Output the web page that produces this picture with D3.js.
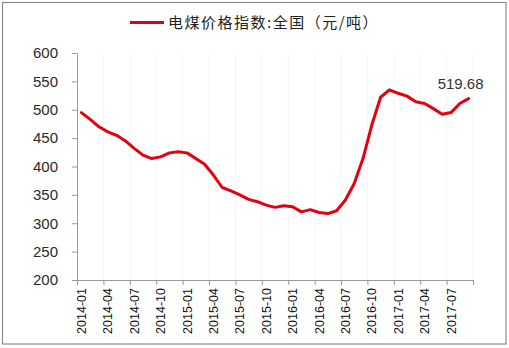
<!DOCTYPE html>
<html>
<head>
<meta charset="utf-8">
<script src="https://cdn.jsdelivr.net/npm/d3@7"></script>
<style>
  html, body { margin: 0; padding: 0; background: #fff; }
  svg { display: block; }
</style>
</head>
<body>
<svg id="chart" width="509" height="348"></svg>
<script>
// Monthly thermal-coal price index, national (yuan / tonne)
const months = [
  "2014-01","2014-02","2014-03","2014-04","2014-05","2014-06","2014-07","2014-08","2014-09","2014-10","2014-11","2014-12",
  "2015-01","2015-02","2015-03","2015-04","2015-05","2015-06","2015-07","2015-08","2015-09","2015-10","2015-11","2015-12",
  "2016-01","2016-02","2016-03","2016-04","2016-05","2016-06","2016-07","2016-08","2016-09","2016-10","2016-11","2016-12",
  "2017-01","2017-02","2017-03","2017-04","2017-05","2017-06","2017-07","2017-08","2017-09"
];
const priceIndex = [
  495, 483, 470, 461, 455, 445, 432, 420, 414, 417, 424, 426,
  424, 414, 404, 385, 363, 357, 350, 342, 338, 332, 328, 331,
  329, 320, 324, 319, 317, 322, 341, 370, 414, 473, 522, 535,
  529, 524, 514, 511, 502, 492, 495, 511, 519.68
];
const yTickValues = [200, 250, 300, 350, 400, 450, 500, 550, 600];
const xTickLabels = [
  "2014-01","2014-04","2014-07","2014-10","2015-01","2015-04","2015-07","2015-10",
  "2016-01","2016-04","2016-07","2016-10","2017-01","2017-04","2017-07"
];
const seriesName = "电煤价格指数:全国（元/吨）";
const lastLabel = "519.68";

(function draw() {
  const svg = d3.select("#chart");
  const plotLeft = 77, plotRight = 473, plotTop = 53, plotBottom = 280;
  const lineColor = "#e3000f";
  const axisColor = "#9a9a9a";

  // outer frame
  svg.append("rect")
    .attr("x", 2.5).attr("y", 2.5).attr("width", 503.5).attr("height", 341.5)
    .attr("fill", "#fff").attr("stroke", "#8a8a8a").attr("stroke-width", 1.2);

  const x = d3.scaleBand().domain(months).range([plotLeft, plotRight]).padding(0);
  const y = d3.scaleLinear().domain([200, 600]).range([plotBottom, plotTop]);
  const cx = m => x(m) + x.bandwidth() / 2;

  // tick positions sit on category boundaries every 3 months
  const boundaryIdx = d3.range(0, months.length + 1, 3);
  const bx = i => plotLeft + i * x.step();

  // faint vertical grid
  svg.append("g").selectAll("line").data(boundaryIdx.slice(1)).join("line")
    .attr("x1", d => bx(d)).attr("x2", d => bx(d))
    .attr("y1", plotTop).attr("y2", plotBottom)
    .attr("stroke", "#f4f4f4").attr("stroke-width", 1);

  // y axis
  const yAxis = d3.axisLeft(y).tickValues(yTickValues).tickSize(5).tickPadding(14).tickSizeOuter(0);
  const gy = svg.append("g").attr("transform", `translate(${plotLeft},0)`).call(yAxis);
  gy.select(".domain").attr("stroke", axisColor);
  gy.selectAll(".tick line").attr("stroke", axisColor);
  gy.selectAll(".tick text")
    .attr("fill", "#2a2a2a")
    .style("font-family", "'Liberation Sans', Arial, sans-serif")
    .style("font-size", "15px");

  // x axis line and ticks
  svg.append("line")
    .attr("x1", plotLeft).attr("x2", plotRight).attr("y1", plotBottom + 0.5).attr("y2", plotBottom + 0.5)
    .attr("stroke", axisColor);
  svg.append("g").selectAll("line").data(boundaryIdx).join("line")
    .attr("x1", d => bx(d) + 0.5).attr("x2", d => bx(d) + 0.5)
    .attr("y1", plotBottom).attr("y2", plotBottom + 5)
    .attr("stroke", axisColor);

  // rotated x labels
  svg.append("g").selectAll("text").data(xTickLabels).join("text")
    .attr("transform", d => `translate(${cx(d) + 4.5},${plotBottom + 8}) rotate(-90)`)
    .attr("text-anchor", "end")
    .attr("fill", "#111")
    .style("font-family", "'Liberation Sans', Arial, sans-serif")
    .style("font-size", "12.5px")
    .text(d => d);

  // series line
  const line = d3.line()
    .x((d, i) => cx(months[i]))
    .y(d => y(d))
    .curve(d3.curveLinear);
  svg.append("path")
    .datum(priceIndex)
    .attr("d", line)
    .attr("fill", "none")
    .attr("stroke", lineColor)
    .attr("stroke-width", 3)
    .attr("stroke-linejoin", "round")
    .attr("stroke-linecap", "round");

  // value label on the latest point
  const lastIdx = priceIndex.length - 1;
  svg.append("text")
    .attr("x", cx(months[lastIdx]) - 8)
    .attr("y", y(priceIndex[lastIdx]) - 10)
    .attr("text-anchor", "middle")
    .attr("fill", "#333")
    .style("font-family", "'Liberation Sans', Arial, sans-serif")
    .style("font-size", "15px")
    .text(lastLabel);

  // legend
  svg.append("line")
    .attr("x1", 130).attr("x2", 164).attr("y1", 22.5).attr("y2", 22.5)
    .attr("stroke", lineColor).attr("stroke-width", 3);
  svg.append("text")
    .attr("x", 168).attr("y", 28)
    .attr("fill", "#222")
    .style("font-family", "'Noto Sans CJK SC', sans-serif")
    .style("font-size", "15px")
    .style("letter-spacing", "1.5px")
    .text(seriesName);
})();
</script>
</body>
</html>
